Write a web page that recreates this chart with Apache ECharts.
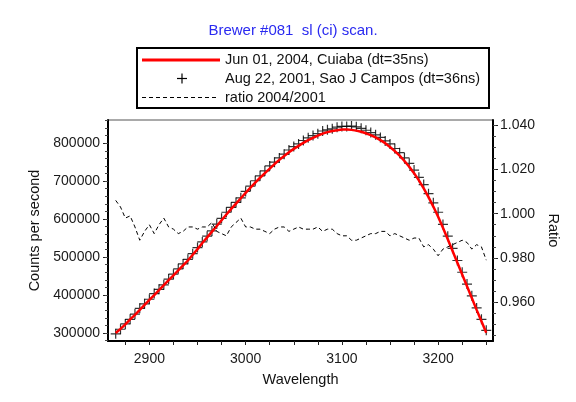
<!DOCTYPE html>
<html>
<head>
<meta charset="utf-8">
<script src="https://cdn.jsdelivr.net/npm/echarts@6/dist/echarts.min.js"></script>
<style>
  html, body { margin: 0; padding: 0; background: #ffffff; }
  #chart { width: 576px; height: 402px; }
</style>
</head>
<body>
<div id="chart"></div>
<script>
// Brewer #081 standard-lamp scan: counts at each wavelength step for two dates,
// plus the ratio of the two scans.
const wavelength = [
  2865, 2870, 2875, 2880, 2885, 2890, 2895, 2900, 2905, 2910, 2915, 2920, 2925,
  2930, 2935, 2940, 2945, 2950, 2955, 2960, 2965, 2970, 2975, 2980, 2985, 2990,
  2995, 3000, 3005, 3010, 3015, 3020, 3025, 3030, 3035, 3040, 3045, 3050, 3055,
  3060, 3065, 3070, 3075, 3080, 3085, 3090, 3095, 3100, 3105, 3110, 3115, 3120,
  3125, 3130, 3135, 3140, 3145, 3150, 3155, 3160, 3165, 3170, 3175, 3180, 3185,
  3190, 3195, 3200, 3205, 3210, 3215, 3220, 3225, 3230, 3235, 3240, 3245, 3250
];

// Jun 01, 2004, Cuiaba (dt=35ns)
const counts2004 = [
  300000, 311000, 323000, 336000, 348000, 361000, 374000, 387000, 400000, 413000, 426000, 439000, 452000,
  465000, 478000, 491000, 506000, 521000, 537000, 552000, 567000, 582000, 597000, 612000, 627000, 641000,
  655000, 669000, 683000, 696000, 709000, 721000, 733000, 745000, 756000, 766000, 776000, 785000, 793000,
  801000, 808000, 814000, 820000, 825000, 829000, 832000, 834000, 836000, 836000, 835000, 833000, 830000,
  826000, 821000, 815000, 808000, 800000, 790000, 779000, 767000, 753000, 738000, 721000, 702000, 681000,
  658000, 633000, 606000, 577000, 547000, 516000, 485000, 454000, 423000, 392000, 361000, 331000, 301000
];

// Aug 22, 2001, Sao J Campos (dt=36ns)
const counts2001 = [
  298000, 310000, 324000, 336000, 350000, 365000, 377000, 389000, 404000, 415000, 427000, 442000, 455000,
  469000, 482000, 494000, 509000, 525000, 540000, 555000, 569000, 587000, 602000, 618000, 631000, 644000,
  656000, 673000, 687000, 701000, 714000, 727000, 740000, 750000, 761000, 771000, 782000, 791000, 798000,
  807000, 814000, 820000, 825000, 832000, 835000, 838000, 842000, 844000, 844000, 845000, 843000, 839000,
  834000, 828000, 822000, 815000, 806000, 798000, 786000, 775000, 761000, 747000, 729000, 710000, 691000,
  667000, 643000, 618000, 586000, 555000, 523000, 491000, 460000, 429000, 398000, 366000, 336000, 307000
];

// ratio 2004/2001
const ratio = [
  1.006, 1.003, 0.998, 0.999, 0.994, 0.988, 0.992, 0.995, 0.991, 0.995, 0.998, 0.994, 0.993,
  0.991, 0.992, 0.994, 0.994, 0.993, 0.994, 0.994, 0.996, 0.992, 0.991, 0.990, 0.994, 0.996,
  0.998, 0.994, 0.994, 0.993, 0.993, 0.992, 0.991, 0.993, 0.994, 0.994, 0.992, 0.993, 0.994,
  0.993, 0.993, 0.993, 0.994, 0.992, 0.993, 0.993, 0.991, 0.990, 0.990, 0.988, 0.988, 0.989,
  0.990, 0.991, 0.991, 0.992, 0.992, 0.990, 0.991, 0.990, 0.989, 0.988, 0.989, 0.989, 0.985,
  0.986, 0.984, 0.981, 0.984, 0.985, 0.986, 0.987, 0.988, 0.987, 0.984, 0.986, 0.985, 0.979
];

const seriesNames = [
  'Jun 01, 2004, Cuiaba (dt=35ns)',
  'Aug 22, 2001, Sao J Campos (dt=36ns)',
  'ratio 2004/2001'
];

const wavelengthLabels = [2900, 3000, 3100, 3200];
const countLabels = [300000, 400000, 500000, 600000, 700000, 800000];
const ratioLabels = [0.96, 0.98, 1.00, 1.02, 1.04];

// axis extents
const xMin = 2857, xMax = 3257;
const countMin = 279000, countMax = 861000;
const ratioMin = 0.9425, ratioMax = 1.0423;

// tick positions between the labelled values
function steps(from, to, step) {
  const out = [];
  for (let v = from; v <= to + step / 1000; v += step) out.push(+v.toFixed(4));
  return out;
}
const wavelengthTicks = steps(2875, 3250, 25);
const countMinorTicks = steps(280000, 860000, 20000);
const ratioMinorTicks = steps(0.945, 1.040, 0.005);

const pair = (xs, ys) => xs.map((x, i) => [x, ys[i]]);

const FONT = 'Liberation Sans, Arial, sans-serif';
const chart = echarts.init(document.getElementById('chart'), null, { renderer: 'canvas' });

const labelStyle = { fontFamily: FONT, fontSize: 14, color: '#1a1a1a' };
const nameStyle = { fontFamily: FONT, fontSize: 14.5, color: '#111' };
const plain = v => String(Math.round(v));

const option = {
  animation: false,
  backgroundColor: '#ffffff',
  grid: {
    left: 108, right: 83, top: 120, bottom: 61,
    show: true, borderColor: '#555', borderWidth: 1, backgroundColor: 'transparent'
  },
  xAxis: {
    type: 'value', min: xMin, max: xMax,
    name: 'Wavelength', nameLocation: 'middle', nameGap: 31, nameTextStyle: nameStyle,
    axisLine: { show: true, onZero: false, lineStyle: { color: '#000', width: 2 } },
    axisTick: { show: true, customValues: wavelengthTicks, length: 4, lineStyle: { color: '#222' } },
    axisLabel: { customValues: wavelengthLabels, margin: 11, formatter: plain, ...labelStyle },
    splitLine: { show: false }
  },
  yAxis: [
    {
      type: 'value', position: 'left', min: countMin, max: countMax,
      name: 'Counts per second', nameLocation: 'middle', nameGap: 56, nameRotate: 90,
      nameTextStyle: nameStyle,
      axisLine: { show: true, lineStyle: { color: '#000', width: 2 } },
      axisTick: { show: true, customValues: countLabels, length: 5, lineStyle: { color: '#222' } },
      axisLabel: { customValues: countLabels, margin: 8, formatter: plain, ...labelStyle },
      splitLine: { show: false }
    },
    {
      type: 'value', position: 'left', min: countMin, max: countMax,
      axisLine: { show: false },
      axisTick: { show: true, customValues: countMinorTicks, length: 3, lineStyle: { color: '#444' } },
      axisLabel: { show: false },
      splitLine: { show: false }
    },
    {
      type: 'value', position: 'right', min: ratioMin, max: ratioMax,
      name: 'Ratio', nameLocation: 'middle', nameGap: 47, nameRotate: -90,
      nameTextStyle: nameStyle,
      axisLine: { show: true, lineStyle: { color: '#000', width: 2 } },
      axisTick: { show: true, customValues: ratioLabels, length: 5, lineStyle: { color: '#222' } },
      axisLabel: { customValues: ratioLabels, margin: 7, formatter: v => v.toFixed(3), ...labelStyle },
      splitLine: { show: false }
    },
    {
      type: 'value', position: 'right', min: ratioMin, max: ratioMax,
      axisLine: { show: false },
      axisTick: { show: true, customValues: ratioMinorTicks, length: 3, lineStyle: { color: '#444' } },
      axisLabel: { show: false },
      splitLine: { show: false }
    }
  ],
  series: [
    {
      name: seriesNames[1], type: 'scatter', yAxisIndex: 0, z: 2,
      data: pair(wavelength, counts2001),
      symbol: 'path://M5,0L5,10M0,5L10,5', symbolSize: 10,
      itemStyle: { color: 'none', borderColor: '#000', borderWidth: 1.2 }
    },
    {
      name: seriesNames[0], type: 'line', yAxisIndex: 0, z: 3,
      data: pair(wavelength, counts2004),
      showSymbol: false, symbol: 'none',
      lineStyle: { color: '#ff0000', width: 2.5 }
    },
    {
      name: seriesNames[2], type: 'line', yAxisIndex: 2, z: 4,
      data: pair(wavelength, ratio),
      showSymbol: false, symbol: 'none',
      lineStyle: { color: '#000', width: 1, type: [4, 3] }
    }
  ],
  graphic: [
    {
      type: 'text', x: 293, y: 31, z: 10,
      style: {
        text: 'Brewer #081  sl (ci) scan.', fill: '#2a2af0',
        font: '15px ' + FONT, align: 'center', verticalAlign: 'middle'
      }
    },
    {
      type: 'group', z: 10,
      children: [
        { type: 'rect', shape: { x: 137, y: 48, width: 352, height: 60 },
          style: { fill: '#fff', stroke: '#000', lineWidth: 2 } },
        { type: 'line', shape: { x1: 142, y1: 60, x2: 220, y2: 60 },
          style: { stroke: '#ff0000', lineWidth: 3 } },
        { type: 'line', shape: { x1: 177, y1: 78.5, x2: 187, y2: 78.5 },
          style: { stroke: '#000', lineWidth: 1.2 } },
        { type: 'line', shape: { x1: 182, y1: 73.5, x2: 182, y2: 83.5 },
          style: { stroke: '#000', lineWidth: 1.2 } },
        { type: 'line', shape: { x1: 142, y1: 97.5, x2: 218, y2: 97.5 },
          style: { stroke: '#000', lineWidth: 1, lineDash: [4, 3] } },
        { type: 'text', x: 225, y: 60,
          style: { text: seriesNames[0], font: '14.5px ' + FONT, fill: '#111', verticalAlign: 'middle' } },
        { type: 'text', x: 225, y: 78.5,
          style: { text: seriesNames[1], font: '14.5px ' + FONT, fill: '#111', verticalAlign: 'middle' } },
        { type: 'text', x: 225, y: 97.5,
          style: { text: seriesNames[2], font: '14.5px ' + FONT, fill: '#111', verticalAlign: 'middle' } }
      ]
    }
  ]
};

chart.setOption(option);
</script>
</body>
</html>
